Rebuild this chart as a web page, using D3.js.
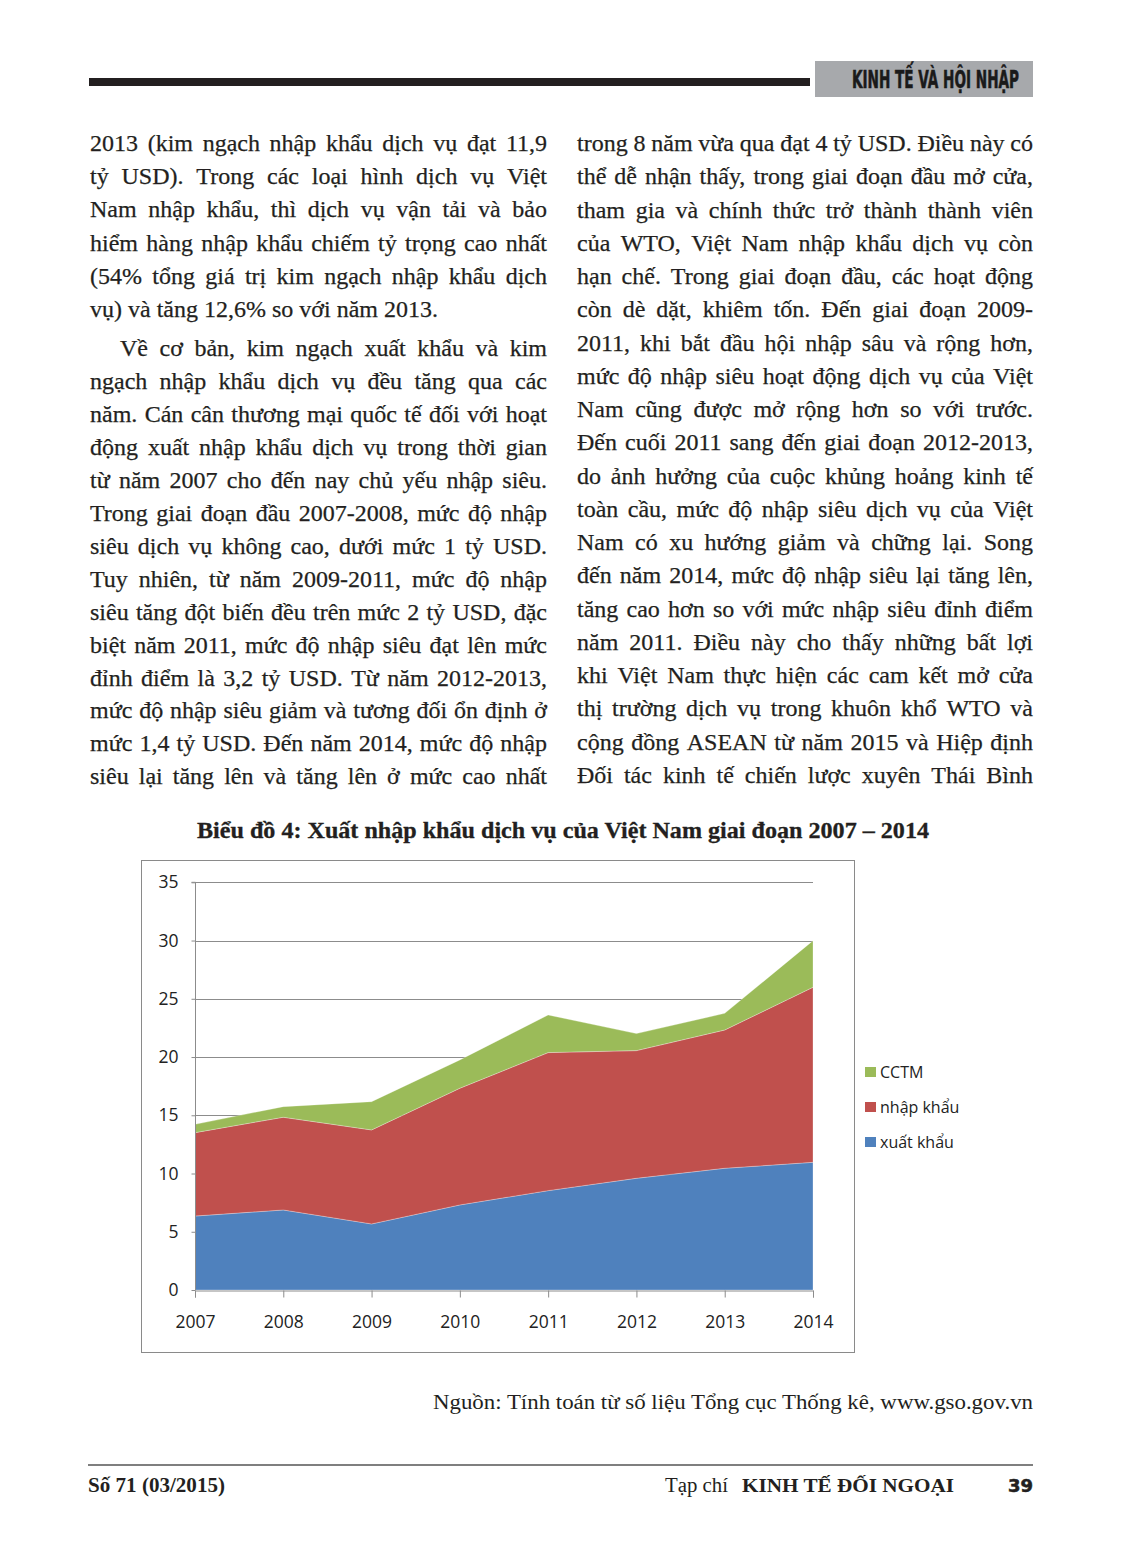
<!DOCTYPE html>
<html>
<head>
<meta charset="utf-8">
<script src="https://cdn.jsdelivr.net/npm/d3@7"></script>
<style>
  html, body { margin: 0; padding: 0; background: #fff; }
  svg { display: block; }
</style>
</head>
<body>
<svg id="page" width="1122" height="1564"></svg>
<script>
// ---------- Chart data ----------
const years = ["2007", "2008", "2009", "2010", "2011", "2012", "2013", "2014"];
const xuatKhau = [6.35, 6.87, 5.67, 7.30, 8.53, 9.59, 10.45, 10.96];
const nhapKhau = [7.16, 7.96, 8.07, 10.02, 11.85, 10.96, 11.87, 15.03];
const cctm = [0.71, 0.91, 2.43, 2.43, 3.23, 1.46, 1.43, 4.00];
const yTicks = [0, 5, 10, 15, 20, 25, 30, 35];
const seriesNames = ["xuất khẩu", "nhập khẩu", "CCTM"];
const seriesColors = ["#4F81BD", "#C0504D", "#9BBB59"];

// ---------- Page text ----------
const leftPara1 = [
  "2013 (kim ngạch nhập khẩu dịch vụ đạt 11,9",
  "tỷ USD). Trong các loại hình dịch vụ Việt",
  "Nam nhập khẩu, thì dịch vụ vận tải và bảo",
  "hiểm hàng nhập khẩu chiếm tỷ trọng cao nhất",
  "(54% tổng giá trị kim ngạch nhập khẩu dịch",
  "vụ) và tăng 12,6% so với năm 2013."
];
const leftPara2 = [
  "Về cơ bản, kim ngạch xuất khẩu và kim",
  "ngạch nhập khẩu dịch vụ đều tăng qua các",
  "năm. Cán cân thương mại quốc tế đối với hoạt",
  "động xuất nhập khẩu dịch vụ trong thời gian",
  "từ năm 2007 cho đến nay chủ yếu nhập siêu.",
  "Trong giai đoạn đầu 2007-2008, mức độ nhập",
  "siêu dịch vụ không cao, dưới mức 1 tỷ USD.",
  "Tuy nhiên, từ năm 2009-2011, mức độ nhập",
  "siêu tăng đột biến đều trên mức 2 tỷ USD, đặc",
  "biệt năm 2011, mức độ nhập siêu đạt lên mức",
  "đỉnh điểm là 3,2 tỷ USD. Từ năm 2012-2013,",
  "mức độ nhập siêu giảm và tương đối ổn định ở",
  "mức 1,4 tỷ USD. Đến năm 2014, mức độ nhập",
  "siêu lại tăng lên và tăng lên ở mức cao nhất"
];
const rightCol = [
  "trong 8 năm vừa qua đạt 4 tỷ USD. Điều này có",
  "thể dễ nhận thấy, trong giai đoạn đầu mở cửa,",
  "tham gia và chính thức trở thành thành viên",
  "của WTO, Việt Nam nhập khẩu dịch vụ còn",
  "hạn chế. Trong giai đoạn đầu, các hoạt động",
  "còn dè dặt, khiêm tốn. Đến giai đoạn 2009-",
  "2011, khi bắt đầu hội nhập sâu và rộng hơn,",
  "mức độ nhập siêu hoạt động dịch vụ của Việt",
  "Nam cũng được mở rộng hơn so với trước.",
  "Đến cuối 2011 sang đến giai đoạn 2012-2013,",
  "do ảnh hưởng của cuộc khủng hoảng kinh tế",
  "toàn cầu, mức độ nhập siêu dịch vụ của Việt",
  "Nam có xu hướng giảm và chững lại. Song",
  "đến năm 2014, mức độ nhập siêu lại tăng lên,",
  "tăng cao hơn so với mức nhập siêu đỉnh điểm",
  "năm 2011. Điều này cho thấy những bất lợi",
  "khi Việt Nam thực hiện các cam kết mở cửa",
  "thị trường dịch vụ trong khuôn khổ WTO và",
  "cộng đồng ASEAN từ năm 2015 và Hiệp định",
  "Đối tác kinh tế chiến lược xuyên Thái Bình"
];
const headerText = "KINH TẾ VÀ HỘI NHẬP";
const chartTitle = "Biểu đồ 4: Xuất nhập khẩu dịch vụ của Việt Nam giai đoạn 2007 – 2014";
const sourceText = "Nguồn: Tính toán từ số liệu Tổng cục Thống kê, www.gso.gov.vn";

const SERIF = "'Liberation Serif', 'Times New Roman', serif";
const SANS = "'Open Sans', 'Liberation Sans', sans-serif";
const COND = "'DejaVu Sans Condensed', 'DejaVu Sans', sans-serif";
const INK = "#231f20";

const svg = d3.select("#page");

// ---------- Header ----------
svg.append("rect").attr("x", 89).attr("y", 78).attr("width", 721).attr("height", 8).attr("fill", INK);
svg.append("rect").attr("x", 815).attr("y", 61).attr("width", 218).attr("height", 36).attr("fill", "#a7a9ac");
svg.append("text").attr("x", 852).attr("y", 88)
  .attr("textLength", 167).attr("lengthAdjust", "spacingAndGlyphs")
  .style("font-family", COND).style("font-weight", "bold").style("font-size", "24px")
  .attr("fill", "#1a1a1a").attr("stroke", "#1a1a1a").attr("stroke-width", 0.6).text(headerText);

// ---------- Body text with justification ----------
const BODY_SIZE = 24;
const measurer = svg.append("text").style("font-family", SERIF).style("font-size", BODY_SIZE + "px")
  .attr("x", -1000).attr("y", -1000);
function measure(s) { measurer.text(s); return measurer.node().getComputedTextLength(); }
const spaceW = measure("a a") - measure("aa");

function drawLine(text, x0, y, width, justify) {
  const words = text.split(" ");
  const widths = words.map(measure);
  const W = d3.sum(widths);
  const n = words.length;
  let gap = spaceW, c = 1;
  if (justify && n > 1) {
    gap = (width - W) / (n - 1);
    const minGap = spaceW * 0.7;
    if (gap < minGap) { gap = minGap; c = (width - minGap * (n - 1)) / W; }
  }
  let x = x0;
  const g = svg.append("g");
  words.forEach((w, i) => {
    const t = g.append("text").attr("x", x).attr("y", y)
      .style("font-family", SERIF).style("font-size", BODY_SIZE + "px")
      .attr("fill", INK).attr("stroke", INK).attr("stroke-width", 0.25).text(w);
    if (c < 1) t.attr("textLength", widths[i] * c).attr("lengthAdjust", "spacingAndGlyphs");
    x += widths[i] * c + gap;
  });
}

leftPara1.forEach((l, i) => drawLine(l, 90, 151 + i * 33.2, 457, i < leftPara1.length - 1));
leftPara2.forEach((l, i) => {
  const indent = i === 0 ? 30 : 0;
  drawLine(l, 90 + indent, 356 + i * 32.95, 457 - indent, true);
});
rightCol.forEach((l, i) => drawLine(l, 577, 151 + i * 33.26, 456, true));
measurer.remove();

// ---------- Chart title ----------
svg.append("text").attr("x", 197).attr("y", 838)
  .attr("textLength", 732).attr("lengthAdjust", "spacingAndGlyphs")
  .style("font-family", SERIF).style("font-weight", "bold").style("font-size", "23px")
  .attr("fill", INK).attr("stroke", INK).attr("stroke-width", 0.3).text(chartTitle);

// ---------- Chart ----------
svg.append("rect").attr("x", 141.5).attr("y", 860.5).attr("width", 713).attr("height", 492)
  .attr("fill", "#fff").attr("stroke", "#8a8a8a").attr("stroke-width", 1);

const x = d3.scalePoint().domain(years).range([195, 813]);
const y = d3.scaleLinear().domain([0, 35]).range([1290, 882.3]);

// gridlines
svg.append("g").selectAll("line").data(yTicks.filter(d => d > 0)).join("line")
  .attr("x1", 195).attr("x2", 813)
  .attr("y1", d => Math.round(y(d)) + 0.5).attr("y2", d => Math.round(y(d)) + 0.5)
  .attr("stroke", "#8c8c8c").attr("stroke-width", 1);

const table = years.map((yr, i) => ({ year: yr, xk: xuatKhau[i], nk: nhapKhau[i], cc: cctm[i] }));
const stack = d3.stack().keys(["xk", "nk", "cc"]);
const layers = stack(table);
const area = d3.area()
  .x(d => x(d.data.year))
  .y0(d => y(d[0]))
  .y1(d => y(d[1]));

svg.append("g").selectAll("path").data(layers).join("path")
  .attr("d", area)
  .attr("fill", (d, i) => seriesColors[i])
  .attr("stroke", "rgba(255,255,255,0.35)")
  .attr("stroke-width", 0.8)
  .attr("stroke-linejoin", "round");

// axes
const yAxis = svg.append("g").attr("transform", "translate(195.5,0)")
  .call(d3.axisLeft(y).tickValues(yTicks).tickSize(4).tickPadding(13).tickFormat(d3.format("d")));
const xAxis = svg.append("g").attr("transform", "translate(0,1290.5)")
  .call(d3.axisBottom(x).tickSize(7).tickPadding(18));
[yAxis, xAxis].forEach(a => {
  a.select(".domain").attr("stroke", "#8c8c8c");
  a.selectAll(".tick line").attr("stroke", "#8c8c8c");
  a.selectAll(".tick text").style("font-family", SANS).style("font-size", "17.5px").attr("fill", "#222");
});
yAxis.select(".domain").attr("d", `M-4,${y(35)}H0V${y(0)}`);

// legend
const legendItems = [2, 1, 0];
const lg = svg.append("g");
legendItems.forEach((si, k) => {
  const cy = 1072 + k * 35;
  lg.append("rect").attr("x", 865).attr("y", cy - 5).attr("width", 11).attr("height", 10).attr("fill", seriesColors[si]);
  lg.append("text").attr("x", 880).attr("y", cy).attr("dy", "0.35em")
    .style("font-family", SANS).style("font-size", "16px").attr("fill", "#222").text(seriesNames[si]);
});

// ---------- Source ----------
svg.append("text").attr("x", 1033).attr("y", 1409).attr("text-anchor", "end")
  .attr("textLength", 600).attr("lengthAdjust", "spacingAndGlyphs")
  .style("font-family", SERIF).style("font-size", "20px").attr("fill", INK).text(sourceText);

// ---------- Footer ----------
svg.append("line").attr("x1", 88).attr("x2", 1033).attr("y1", 1465).attr("y2", 1465)
  .attr("stroke", "#555").attr("stroke-width", 1.5);
svg.append("text").attr("x", 88).attr("y", 1492)
  .attr("textLength", 137).attr("lengthAdjust", "spacingAndGlyphs")
  .style("font-family", SERIF).style("font-weight", "bold").style("font-size", "20px")
  .attr("fill", INK).text("Số 71 (03/2015)");
svg.append("text").attr("x", 665).attr("y", 1492)
  .attr("textLength", 63).attr("lengthAdjust", "spacingAndGlyphs")
  .style("font-family", SERIF).style("font-size", "20px").attr("fill", INK).text("Tạp chí");
svg.append("text").attr("x", 742).attr("y", 1492)
  .attr("textLength", 212).attr("lengthAdjust", "spacingAndGlyphs")
  .style("font-family", SERIF).style("font-weight", "bold").style("font-size", "19px")
  .attr("fill", INK).text("KINH TẾ ĐỐI NGOẠI");
svg.append("text").attr("x", 1008).attr("y", 1492)
  .attr("textLength", 25).attr("lengthAdjust", "spacingAndGlyphs")
  .style("font-family", COND).style("font-weight", "bold").style("font-size", "17px")
  .attr("fill", INK).attr("stroke", INK).attr("stroke-width", 0.5).text("39");
</script>
</body>
</html>
